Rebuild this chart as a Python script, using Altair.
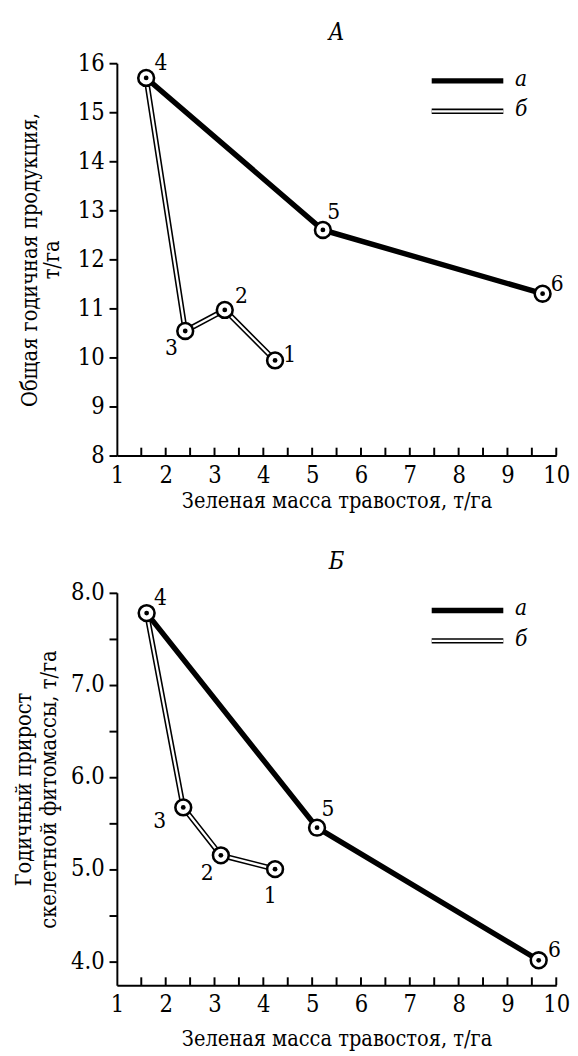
import altair as alt
import pandas as pd

FONT = "DejaVu Serif Condensed"

# ---------------- data ----------------
a_top_x = [1.60, 5.22, 9.72]
a_top_y = [15.70, 12.60, 11.30]
a_top_lbl = ["4", "5", "6"]
b_top_x = [1.60, 2.40, 3.21, 4.24]
b_top_y = [15.70, 10.54, 10.97, 9.94]
b_top_lbl = ["4", "3", "2", "1"]

a_bot_x = [1.61, 5.10, 9.64]
a_bot_y = [7.78, 5.45, 4.01]
a_bot_lbl = ["4", "5", "6"]
b_bot_x = [1.61, 2.36, 3.13, 4.24]
b_bot_y = [7.78, 5.67, 5.15, 5.00]
b_bot_lbl = ["4", "3", "2", "1"]

x_labels = [1, 2, 3, 4, 5, 6, 7, 8, 9, 10]
x_minor = [1.5, 2, 2.5, 3, 3.5, 4, 4.5, 5, 5.5, 6, 6.5, 7, 7.5, 8, 8.5, 9, 9.5, 10]
y_top_ticks = [8, 8.5, 9, 9.5, 10, 10.5, 11, 11.5, 12, 12.5, 13, 13.5, 14, 14.5, 15, 15.5, 16]
y_bot_ticks = [4.0, 4.5, 5.0, 5.5, 6.0, 6.5, 7.0, 7.5, 8.0]

legend_names = ["а", "б"]
panel_titles = ["А", "Б"]

W, H = 448, 400


def panel(ax, ay, alab, bx, by, blab, ydom, yticks, ylabexpr, ytitle, title,
          offsets, ytitle_pad, ytitle_lh, xtitle_pad):
    dfa = pd.DataFrame({"x": ax, "y": ay, "lbl": alab, "o": list(range(len(ax)))})
    dfb = pd.DataFrame({"x": bx, "y": by, "lbl": blab, "o": list(range(len(bx)))})
    pts = pd.concat([dfa, dfb[dfb["lbl"] != "4"]], ignore_index=True)

    xs = alt.Scale(domain=[1, 10], nice=False, zero=False)
    ys = alt.Scale(domain=ydom, nice=False, zero=False)
    xaxis = alt.Axis(values=x_labels, format="d", ticks=False, tickSize=0,
                     domainColor="black", domainWidth=2, labelFont=FONT,
                     labelFontSize=24, labelColor="black", labelPadding=8,
                     labelFlush=False, grid=False,
                     title="Зеленая масса травостоя, т/га", titleFont=FONT,
                     titleFontSize=22, titleFontWeight="normal",
                     titleColor="black", titlePadding=xtitle_pad)
    yaxis = alt.Axis(values=yticks, labelExpr=ylabexpr, tickSize=8, tickWidth=2,
                     tickColor="black", domainColor="black", domainWidth=2,
                     labelFont=FONT, labelFontSize=24, labelColor="black",
                     labelPadding=5, grid=False, title=ytitle, titleFont=FONT,
                     titleFontSize=22, titleFontWeight="normal",
                     titleColor="black", titlePadding=ytitle_pad,
                     titleLineHeight=ytitle_lh)

    X = alt.X("x:Q", scale=xs, axis=xaxis)
    Y = alt.Y("y:Q", scale=ys, axis=yaxis)
    Xn = alt.X("x:Q", scale=xs)
    Yn = alt.Y("y:Q", scale=ys)

    line_a = alt.Chart(dfa).mark_line(color="black", strokeWidth=5.5).encode(
        x=X, y=Y, order="o:Q")
    line_b1 = alt.Chart(dfb).mark_line(color="black", strokeWidth=5.5).encode(
        x=Xn, y=Yn, order="o:Q")
    line_b2 = alt.Chart(dfb).mark_line(color="white", strokeWidth=2.3).encode(
        x=Xn, y=Yn, order="o:Q")
    rings = alt.Chart(pts).mark_circle(fill="white", stroke="black", strokeWidth=2.6,
                                       size=260, opacity=1).encode(x=Xn, y=Yn)
    dots = alt.Chart(pts).mark_circle(color="black", size=24, opacity=1).encode(x=Xn, y=Yn)

    labels = []
    for lb, (dx, dy) in offsets.items():
        labels.append(
            alt.Chart(pts).transform_filter(alt.datum.lbl == lb).mark_text(
                font=FONT, fontSize=23, color="black", dx=dx, dy=dy,
                align="center", baseline="middle").encode(x=Xn, y=Yn, text="lbl:N"))

    xt = alt.Chart(pd.DataFrame({"x": x_minor})).mark_rule(
        color="black", strokeWidth=2).encode(
        x=Xn, y=alt.value(H - 8), y2=alt.value(H))

    one = pd.DataFrame({"k": [0]})
    leg_a = alt.Chart(one).mark_rule(color="black", strokeWidth=5.5).encode(
        x=alt.value(321), x2=alt.value(394), y=alt.value(18))
    leg_b1 = alt.Chart(one).mark_rule(color="black", strokeWidth=5.5).encode(
        x=alt.value(321), x2=alt.value(394), y=alt.value(49))
    leg_b2 = alt.Chart(one).mark_rule(color="white", strokeWidth=2.3).encode(
        x=alt.value(321), x2=alt.value(394), y=alt.value(49))
    leg_t = alt.Chart(pd.DataFrame({"t": legend_names, "yy": [18, 49]})).mark_text(
        font=FONT, fontSize=23, fontStyle="italic", color="black", align="left",
        baseline="middle", dy=-2).encode(
        x=alt.value(406), y=alt.Y("yy:Q", scale=None), text="t:N")

    ttl = alt.Chart(pd.DataFrame({"t": [title]})).mark_text(
        font=FONT, fontSize=24, fontStyle="italic", color="black", align="center",
        baseline="alphabetic").encode(
        x=alt.value(W / 2), y=alt.value(-24), text="t:N")

    return alt.layer(line_a, line_b1, line_b2, xt, rings, dots, *labels,
                     leg_a, leg_b1, leg_b2, leg_t, ttl).properties(width=W, height=H)


top = panel(a_top_x, a_top_y, a_top_lbl, b_top_x, b_top_y, b_top_lbl,
            [8, 16], y_top_ticks,
            "datum.value % 1 == 0 ? datum.label : ''",
            ["Общая годичная продукция,", "т/га"], panel_titles[0],
            {"4": (15, -15), "5": (11, -18), "6": (15, -10), "2": (17, -14),
             "3": (-14, 18), "1": (15, -5)},
            14, 22, 4)

bottom = panel(a_bot_x, a_bot_y, a_bot_lbl, b_bot_x, b_bot_y, b_bot_lbl,
               [3.74, 8], y_bot_ticks,
               "datum.value % 1 == 0 ? format(datum.value, '.1f') : ''",
               ["Годичный прирост", "скелетной фитомассы, т/га"], panel_titles[1],
               {"4": (14, -15), "5": (11, -19), "6": (16, -10), "3": (-24, 14),
                "2": (-14, 18), "1": (-5, 28)},
               10, 26, 13)

chart = alt.vconcat(top, bottom, spacing=140, bounds="flush").properties(
    padding={"left": 4, "top": 3, "right": 0, "bottom": 0}
).configure_view(stroke=None)

chart.save("out.html", embed_options={"renderer": "svg", "actions": False})
